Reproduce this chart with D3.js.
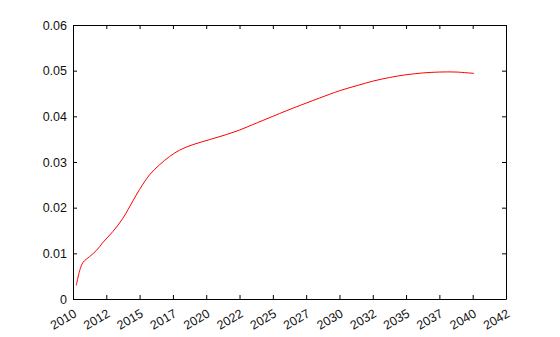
<!DOCTYPE html>
<html>
<head>
<meta charset="utf-8">
<script src="https://cdn.jsdelivr.net/npm/d3@7"></script>
<style>
  body { margin: 0; background: #fff; }
</style>
</head>
<body>
<div id="chart"></div>
<script>
// Data (decimal year, value)
const years = [2010.25, 2010.5, 2010.75, 2011.25, 2011.75, 2012.25, 2013.0, 2013.75, 2014.5, 2015.0,
  2015.75, 2016.5, 2017.25, 2018.0, 2019.0, 2020.25, 2021.5, 2022.5, 2023.5, 2025.0,
  2026.0, 2027.5, 2028.5, 2030.0, 2031.4, 2032.5, 2033.75, 2035.0, 2036.25, 2037.5, 2038.75, 2040.1];
const values = [0.0030, 0.0062, 0.0080, 0.0093, 0.0106, 0.0124, 0.0148, 0.0177, 0.0215, 0.0240,
  0.0272, 0.0294, 0.0312, 0.0326, 0.0338, 0.0349, 0.0360, 0.0370, 0.0382, 0.0400,
  0.0412, 0.0429, 0.0440, 0.0456, 0.0468, 0.0477, 0.0485, 0.0491, 0.0495, 0.0497, 0.0497, 0.0494];

// Ticks every 2.5 years, labelled with the whole year
const xTicks = [2010, 2012.5, 2015, 2017.5, 2020, 2022.5, 2025, 2027.5, 2030, 2032.5, 2035, 2037.5, 2040, 2042.5];
const yTicks = [0, 0.01, 0.02, 0.03, 0.04, 0.05, 0.06];

const W = 560, H = 337;
const margin = { top: 25, right: 54, bottom: 38, left: 73 };
const width = W - margin.left - margin.right;
const height = H - margin.top - margin.bottom;

const svg = d3.select("#chart").append("svg")
    .attr("width", W)
    .attr("height", H)
  .append("g")
    .attr("transform", `translate(${margin.left},${margin.top})`);

const x = d3.scaleLinear().domain([2010, 2042.5]).range([0, width]);
const y = d3.scaleLinear().domain([0, 0.06]).range([height, 0]);

const fmtY = d => d === 0 ? "0" : d3.format(".2f")(d);

// set the label font on the axis group itself
function styleAxis(g) {
  g.attr("font-family", "Liberation Sans, Arial, sans-serif")
   .attr("font-size", 12.5);
  g.selectAll(".tick text").attr("fill", "#111");
  g.select(".domain").attr("stroke", "#000");
  g.selectAll(".tick line").attr("stroke", "#000");
}

// inward ticks on all four sides
svg.append("g")
    .attr("transform", `translate(0,${height})`)
    .call(d3.axisBottom(x).tickValues(xTicks).tickSizeInner(-4).tickSizeOuter(0)
      .tickFormat(d => Math.floor(d)))
    .call(styleAxis)
    .call(g => g.selectAll("text")
      .attr("text-anchor", "end")
      .attr("x", 0).attr("y", 0).attr("dy", null)
      .attr("transform", "translate(4,17) rotate(-30)"));

svg.append("g")
    .call(d3.axisTop(x).tickValues(xTicks).tickSizeInner(-4).tickSizeOuter(0).tickFormat(""))
    .call(styleAxis);

svg.append("g")
    .call(d3.axisLeft(y).tickValues(yTicks).tickSizeInner(-4).tickSizeOuter(0)
      .tickPadding(6).tickFormat(fmtY))
    .call(styleAxis);

svg.append("g")
    .attr("transform", `translate(${width},0)`)
    .call(d3.axisRight(y).tickValues(yTicks).tickSizeInner(-4).tickSizeOuter(0).tickFormat(""))
    .call(styleAxis);

const line = d3.line()
    .x((d, i) => x(years[i]))
    .y(d => y(d))
    .curve(d3.curveCatmullRom.alpha(0.5));

svg.append("path")
    .datum(values)
    .attr("fill", "none")
    .attr("stroke", "#ff0000")
    .attr("stroke-width", 1)
    .attr("d", line);
</script>
</body>
</html>
